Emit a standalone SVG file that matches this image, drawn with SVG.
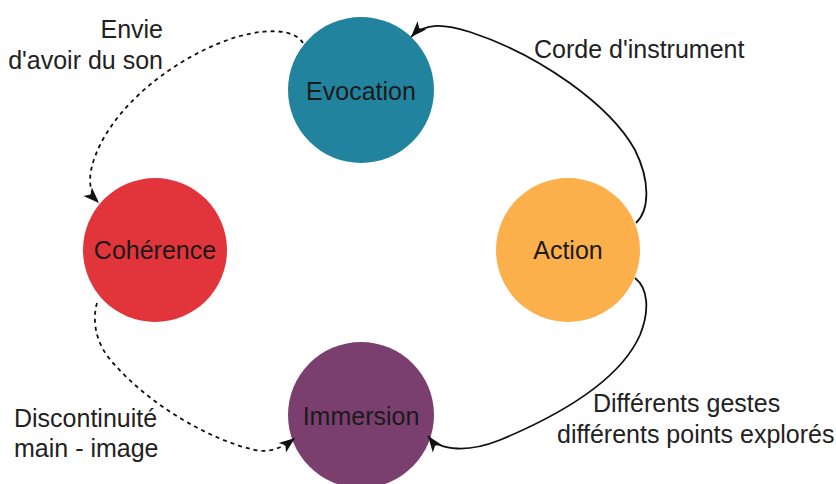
<svg xmlns="http://www.w3.org/2000/svg" width="836" height="484" viewBox="0 0 836 484">
<style>
.node-label{font-family:"Liberation Sans",Arial,sans-serif;font-size:25px;fill:#1a1a1a;text-anchor:middle}
.edge-label{font-family:"Liberation Sans",Arial,sans-serif;font-size:25px;fill:#222}
.edge{fill:none;stroke:#111;stroke-width:1.8}
.dashed{stroke-dasharray:4 4}
</style>
<defs>
<marker id="arrow" markerUnits="userSpaceOnUse" markerWidth="18" markerHeight="14" viewBox="0 0 18 14" refX="17" refY="7" orient="auto">
<path d="M1,1 L17,7 L1,13 L5,7 Z" fill="#111"/>
</marker>
</defs>
<rect width="836" height="484" fill="#ffffff"/>
<g id="evocation">
<circle cx="361" cy="90" r="73" fill="#22839f"/>
<text class="node-label" x="361" y="100">Evocation</text>
</g>
<g id="coherence">
<circle cx="155" cy="250" r="72" fill="#e2343b"/>
<text class="node-label" x="155" y="259">Cohérence</text>
</g>
<g id="action">
<circle cx="568" cy="250" r="72" fill="#fbb04b"/>
<text class="node-label" x="568" y="259">Action</text>
</g>
<g id="immersion">
<circle cx="361" cy="415" r="73" fill="#7b3f6f"/>
<text class="node-label" x="361" y="425">Immersion</text>
</g>
<g id="connectors">
<path class="edge dashed" d="M303,43 C295,30 270,28 240,36 C185,52 125,95 100,145 C88,170 86,190 99,203" marker-end="url(#arrow)"/>
<path class="edge dashed" d="M97,303 C92,320 95,345 115,365 C150,405 210,440 255,450 C270,453 282,448 295,438" marker-end="url(#arrow)"/>
<path class="edge" d="M635,278 C648,288 650,310 640,335 C620,380 560,415 500,440 C470,452 440,452 428,436" marker-end="url(#arrow)"/>
<path class="edge" d="M636,223 C650,210 650,180 635,150 C610,105 540,55 470,32 C445,24 425,22 411,37" marker-end="url(#arrow)"/>
</g>
<g id="labels">
<text class="edge-label" x="163" y="38" text-anchor="end">Envie</text>
<text class="edge-label" x="163" y="69" text-anchor="end">d'avoir du son</text>
<text class="edge-label" x="534" y="58">Corde d'instrument</text>
<text class="edge-label" x="14" y="427">Discontinuité</text>
<text class="edge-label" x="14" y="457">main - image</text>
<text class="edge-label" x="593" y="412">Différents gestes</text>
<text class="edge-label" x="557" y="443">différents points explorés</text>
</g>
</svg>
